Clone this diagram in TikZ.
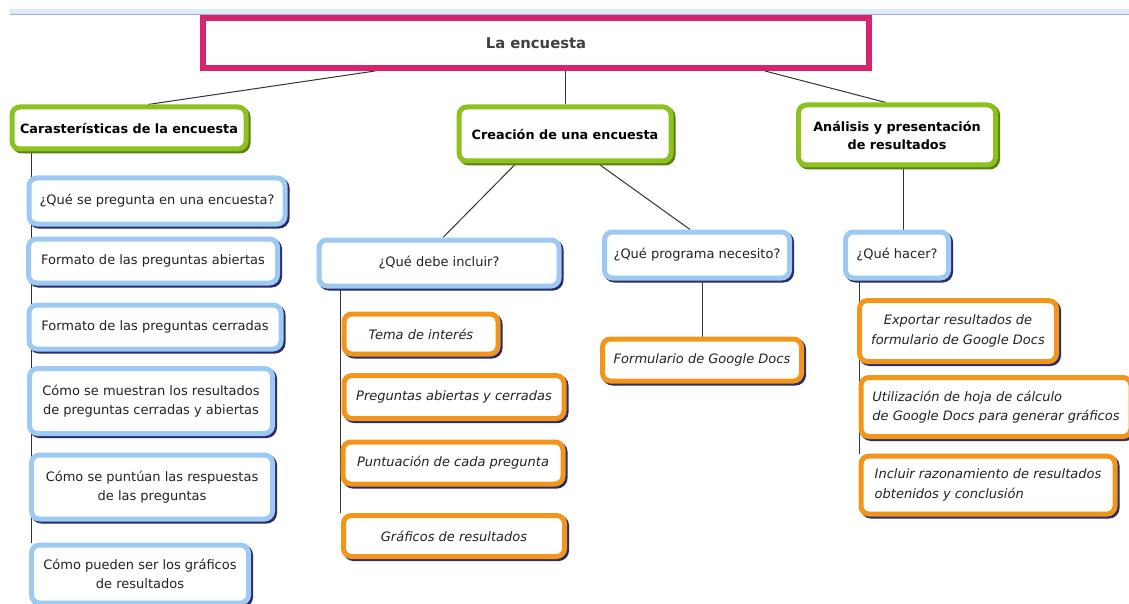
\documentclass[tikz,border=0pt]{standalone}
\usepackage{fontspec}
\setmainfont{DejaVu Sans}
\usepackage{xcolor}
\usepackage{tikz}
\usetikzlibrary{shadows,backgrounds}
\definecolor{rosa}{HTML}{D6246E}
\definecolor{verde}{HTML}{8CC11F}
\definecolor{celeste}{HTML}{9DCAF4}
\definecolor{naranja}{HTML}{F2961B}
\definecolor{sombra}{HTML}{2A2C6A}
\definecolor{sombrav}{HTML}{5E7F12}
\definecolor{franja}{HTML}{DDEAF7}
\definecolor{texto}{HTML}{222222}

\begin{document}
\begin{tikzpicture}[x=1pt,y=-1pt,
        tema/.style={draw=rosa,line width=6pt,fill=white,inner sep=0pt,
                     font=\fontsize{14.8}{17}\selectfont\bfseries,text=black!75},
        rama/.style={draw=verde,line width=5pt,fill=white,rounded corners=8pt,
                     inner sep=0pt,align=center,text=black,
                     font=\fontsize{12.8}{18}\selectfont\bfseries,
                     drop shadow={shadow xshift=2pt,shadow yshift=-2pt,opacity=1,
                       draw=sombrav,fill=sombrav,line width=5pt}},
        preg/.style={draw=celeste,line width=5pt,fill=white,rounded corners=8pt,
                     inner sep=0pt,align=center,text=texto,
                     font=\fontsize{13}{19.5}\selectfont,
                     drop shadow={shadow xshift=2pt,shadow yshift=-2pt,opacity=1,
                       draw=sombra,fill=sombra,line width=5pt}},
        item/.style={draw=naranja,line width=5pt,fill=white,rounded corners=8pt,
                     inner sep=0pt,align=center,text=texto,
                     font=\fontsize{13}{19.5}\selectfont\itshape,
                     drop shadow={shadow xshift=2pt,shadow yshift=-2pt,opacity=1,
                       draw=sombra,fill=sombra,line width=5pt}},
        enlace/.style={draw=black!80,line width=1pt}]
        \useasboundingbox (0,0) rectangle (1129,604);
        \fill[franja] (10,9) rectangle (1129,14);
        \draw[blue!30!gray!50,line width=0.6pt] (10,14.5) -- (1129,14.5);

        \node[tema,minimum width=666pt,minimum height=50pt] (la) at (536,43) {La encuesta};

        \node[rama,minimum width=234pt,minimum height=42pt] (car) at (129,128)
          {Carasterísticas de la encuesta};
        \node[rama,minimum width=212pt,minimum height=54pt] (crea) at (565,134)
          {Creación de una encuesta};
        \node[rama,minimum width=197pt,minimum height=60pt] (ana) at (897,135)
          {Análisis y presentación\\de resultados};

        \foreach \i/\x/\y/\w/\h/\txt in {
            1/157/201/256/46/{¿Qué se pregunta en una encuesta?},
            2/153/261/249/44/{Formato de las preguntas abiertas},
            3/155/327/252/44/{Formato de las preguntas cerradas},
            4/151/401/243/65/{Cómo se muestran los resultados\\de preguntas cerradas y abiertas},
            5/152/487/241/64/{Cómo se puntúan las respuestas\\de las preguntas},
            6/140/574/217/58/{Cómo pueden ser los gráficos\\de resultados}}{
          \node[preg,minimum width=\w pt,minimum height=\h pt] (p\i) at (\x,\y) {\txt};
        }
        \node[preg,minimum width=240pt,minimum height=46pt] (qdi) at (439,263)
          {¿Qué debe incluir?};
        \node[preg,minimum width=185pt,minimum height=46pt] (qpn) at (697,255)
          {¿Qué programa necesito?};
        \node[preg,minimum width=103pt,minimum height=46pt] (qh) at (897,255)
          {¿Qué hacer?};

        \foreach \i/\x/\y/\w/\h/\txt in {
            1/421/334/154/40/{Tema de interés},
            2/454/397/220/43/{Preguntas abiertas y cerradas},
            3/453/463/220/42/{Puntuación de cada pregunta},
            4/454/536/221/41/{Gráficos de resultados}}{
          \node[item,minimum width=\w pt,minimum height=\h pt] (o\i) at (\x,\y) {\txt};
        }
        \node[item,minimum width=199pt,minimum height=42pt] (gf) at (702,360)
          {Formulario de Google Docs};
        \node[item,minimum width=197pt,minimum height=61pt] (r1) at (958,331)
          {Exportar resultados de\\formulario de Google Docs};
        \node[item,minimum width=270pt,minimum height=59pt,align=left] (r2) at (996,407)
          {Utilización de hoja de cálculo\\de Google Docs para generar gráficos};
        \node[item,minimum width=254pt,minimum height=58pt,align=left] (r3) at (988,485)
          {Incluir razonamiento de resultados\\obtenidos y conclusión};

        \begin{scope}[on background layer]
          \draw[enlace] ([xshift=-161pt]la.south) -- ([xshift=19pt]car.north);
          \draw[enlace] (crea.north |- la.south) -- (crea.north);
          \draw[enlace] ([xshift=229pt]la.south) -- ([xshift=-11pt]ana.north);
          \draw[enlace] ([xshift=22pt]car.south west) -- ([xshift=22pt]car.south west |- p6.north);
          \draw[enlace] ([xshift=-49pt]crea.south) -- ([xshift=4pt]qdi.north);
          \draw[enlace] ([xshift=33pt]crea.south) -- ([xshift=-7pt]qpn.north);
          \draw[enlace] ([xshift=24pt]qdi.south west) -- ([xshift=24pt]qdi.south west |- o4.north);
          \draw[enlace] (gf.north |- qpn.south) -- (gf.north);
          \draw[enlace] ([xshift=6pt]ana.south) -- ([xshift=6pt]qh.north);
          \draw[enlace] ([xshift=16pt]qh.south west) -- ([xshift=16pt]qh.south west |- r3.north);
        \end{scope}
      \end{tikzpicture}
\end{document}
